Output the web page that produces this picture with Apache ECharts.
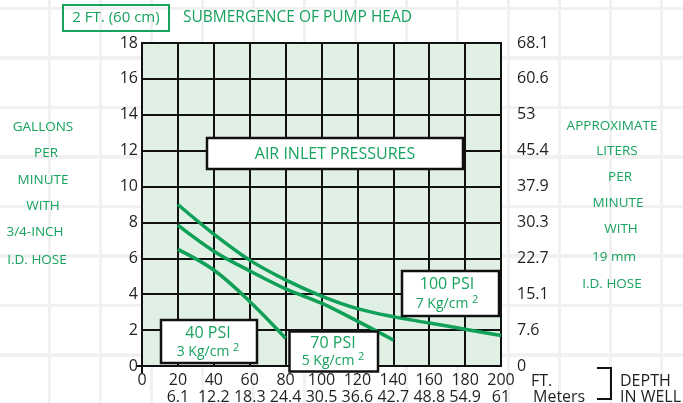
<!DOCTYPE html>
<html><head><meta charset="utf-8">
<script src="https://cdn.jsdelivr.net/npm/echarts@6/dist/echarts.min.js"></script>
<style>
html,body{margin:0;padding:0;background:#fff;}
#c{width:683px;height:403px;background-color:#fff;
background-image:
 repeating-linear-gradient(to right, rgba(0,0,0,0) 0px, rgba(0,0,0,0) 48px, #f1f1f1 48px, #f1f1f1 51px, rgba(0,0,0,0) 51px, rgba(0,0,0,0) 50px),
 repeating-linear-gradient(to bottom, rgba(0,0,0,0) 0px, rgba(0,0,0,0) 7px, #f1f1f1 7px, #f1f1f1 10px, rgba(0,0,0,0) 10px, rgba(0,0,0,0) 49.5px);
}
</style></head>
<body><div id="c"></div>
<script>
// ---- data ----
const depthFeet = [0, 20, 40, 60, 80, 100, 120, 140, 160, 180, 200];
const depthMeters = ['', '6.1', '12.2', '18.3', '24.4', '30.5', '36.6', '42.7', '48.8', '54.9', '61'];
const litersLabels = ['0', '7.6', '15.1', '22.7', '30.3', '37.9', '45.4', '53', '60.6', '68.1'];

const depth40 = [20, 40, 60, 80];
const gpm40 = [6.5, 5.35, 3.6, 1.55];

const depth70 = [20, 40, 60, 80, 100, 120, 140];
const gpm70 = [7.85, 6.4, 5.3, 4.3, 3.5, 2.5, 1.45];

const depth100 = [20, 40, 60, 80, 100, 120, 140, 160, 180, 200];
const gpm100 = [9.0, 7.35, 5.9, 4.8, 3.9, 3.2, 2.75, 2.4, 2.05, 1.7];

const leftTitleLines = ['GALLONS', 'PER', 'MINUTE', 'WITH', '3/4-INCH', 'I.D. HOSE'];
const rightTitleLines = ['APPROXIMATE', 'LITERS', 'PER', 'MINUTE', 'WITH', '19 mm', 'I.D. HOSE'];

// ---- styles ----
const GREEN = '#17a35e';
const LINE = '#10a057';
const DARK = '#231f20';
const FONT = 'Open Sans';

function pairs(xs, ys) { return xs.map((x, i) => [x, ys[i]]); }

const chart = echarts.init(document.getElementById('c'), null, {renderer: 'canvas'});

function lineSeries(name, xs, ys) {
  return {
    name: name, type: 'line', data: pairs(xs, ys), smooth: 0.35,
    showSymbol: false, symbol: 'none',
    lineStyle: {color: LINE, width: 3.5, cap: 'butt'}, z: 3, silent: true
  };
}

function sideText(lines, xs, ys) {
  return lines.map((t, i) => ({
    type: 'text', x: xs[i], y: ys[i],
    style: {text: t, fill: GREEN, font: '13.5px "' + FONT + '"', textAlign: 'center', textVerticalAlign: 'middle'}
  }));
}

function labelBox(x, y, w, h, t1, t2, c1y, c2y, cx) {
  return [
    {type: 'rect', shape: {x: x, y: y, width: w, height: h}, style: {fill: '#fff', stroke: '#111', lineWidth: 2.5}, z: 100},
    {type: 'text', x: cx, y: c1y, z: 101, style: {text: t1, fill: GREEN, font: '16px "' + FONT + '"', textAlign: 'center', textVerticalAlign: 'middle'}},
    {type: 'text', x: cx, y: c2y, z: 101, style: {
      text: '{a|' + t2 + ' }{s|2}', textAlign: 'center', textVerticalAlign: 'middle',
      rich: {a: {fontSize: 14, fontFamily: FONT, fill: GREEN, color: GREEN}, s: {fontSize: 11, fontFamily: FONT, color: GREEN, fill: GREEN, padding: [0, 0, 9, 0]}}
    }}
  ];
}

const option = {
  backgroundColor: 'transparent',
  animation: false,
  textStyle: {fontFamily: FONT},
  grid: {left: 142, right: 182, top: 43, bottom: 37, containLabel: false, outerBoundsMode: 'none',
    show: true, backgroundColor: '#e1f0e5', borderColor: '#111', borderWidth: 2},
  xAxis: {
    type: 'value', min: 0, max: 200, interval: 20,
    axisLine: {show: false}, axisTick: {show: false},
    splitLine: {show: true, lineStyle: {color: '#111', width: 2}},
    axisLabel: {
      margin: 6, color: DARK, fontSize: 16, lineHeight: 17, fontFamily: FONT,
      formatter: function (v) {
        const i = depthFeet.indexOf(v);
        if (i <= 0) return String(v);
        return v + '\n' + depthMeters[i];
      }
    }
  },
  yAxis: [{
    type: 'value', min: 0, max: 18, interval: 2, position: 'left',
    axisLine: {show: false}, axisTick: {show: false},
    splitLine: {show: true, lineStyle: {color: '#111', width: 2}},
    axisLabel: {margin: 4, color: DARK, fontSize: 16, fontFamily: FONT}
  }, {
    type: 'value', min: 0, max: 18, interval: 2, position: 'right',
    axisLine: {show: false}, axisTick: {show: false}, splitLine: {show: false},
    axisLabel: {margin: 16, color: DARK, fontSize: 16, fontFamily: FONT, align: 'left',
      formatter: function (v) { return litersLabels[Math.round(v / 2)]; }}
  }],
  series: [
    lineSeries('40 PSI', depth40, gpm40),
    lineSeries('70 PSI', depth70, gpm70),
    lineSeries('100 PSI', depth100, gpm100)
  ]
};
chart.setOption(option);

// corner ticks at origin, via the library's scales
const o = chart.convertToPixel({gridIndex: 0}, [0, 0]);

const graphics = [
  {type: 'line', shape: {x1: o[0] - 6, y1: o[1], x2: o[0], y2: o[1]}, style: {stroke: '#111', lineWidth: 2}},
  {type: 'line', shape: {x1: o[0], y1: o[1], x2: o[0], y2: o[1] + 7}, style: {stroke: '#111', lineWidth: 2}},
  // top title
  {type: 'rect', shape: {x: 63, y: 5, width: 106, height: 26}, style: {fill: 'rgba(0,0,0,0)', stroke: GREEN, lineWidth: 2}},
  {type: 'text', x: 116, y: 18, style: {text: '2 FT. (60 cm)', fill: GREEN, font: '15px "' + FONT + '"', textAlign: 'center', textVerticalAlign: 'middle'}},
  {type: 'text', x: 183, y: 18, style: {text: 'SUBMERGENCE OF PUMP HEAD', fill: GREEN, font: '15.5px "' + FONT + '"', textAlign: 'left', textVerticalAlign: 'middle'}},
  // air inlet pressures
  {type: 'rect', shape: {x: 207, y: 138, width: 256, height: 31}, style: {fill: '#fff', stroke: '#111', lineWidth: 2.5}, z: 100},
  {type: 'text', x: 335, y: 154, z: 101, style: {text: 'AIR INLET PRESSURES', fill: GREEN, font: '16px "' + FONT + '"', textAlign: 'center', textVerticalAlign: 'middle'}},
  // x axis units
  {type: 'text', x: 531, y: 381, style: {text: 'FT.', fill: DARK, font: '16px "' + FONT + '"', textAlign: 'left', textVerticalAlign: 'middle'}},
  {type: 'text', x: 533, y: 397, style: {text: 'Meters', fill: DARK, font: '16px "' + FONT + '"', textAlign: 'left', textVerticalAlign: 'middle'}},
  {type: 'polyline', shape: {points: [[597, 368], [611, 368], [611, 399], [597, 399]]}, style: {stroke: '#111', lineWidth: 2, fill: null}},
  {type: 'text', x: 620, y: 381, style: {text: 'DEPTH', fill: DARK, font: '16px "' + FONT + '"', textAlign: 'left', textVerticalAlign: 'middle'}},
  {type: 'text', x: 620, y: 397, style: {text: 'IN WELL', fill: DARK, font: '16px "' + FONT + '"', textAlign: 'left', textVerticalAlign: 'middle'}}
]
.concat(sideText(leftTitleLines, [43, 46, 43, 43, 35, 37], [127, 153, 180, 206, 232, 260]))
.concat(sideText(rightTitleLines, [612, 617, 620, 618, 621, 614, 612], [126, 151, 177, 203, 229, 257, 284]))
.concat(labelBox(161, 320, 96, 43, '40 PSI', '3 Kg/cm', 333, 352, 208))
.concat(labelBox(289.5, 331.5, 88.5, 40, '70 PSI', '5 Kg/cm', 343, 361, 333))
.concat(labelBox(402, 271, 97, 45, '100 PSI', '7 Kg/cm', 284, 304, 447));

chart.setOption({graphic: graphics});
</script>
</body></html>
